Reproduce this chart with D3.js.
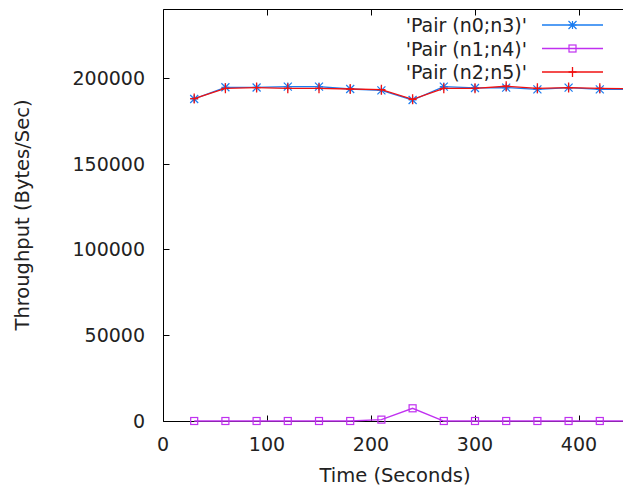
<!DOCTYPE html>
<html lang="en">
<head>
<meta charset="utf-8">
<title>Throughput</title>
<script src="https://cdn.jsdelivr.net/npm/d3@7"></script>
<style>
  body { margin: 0; background: #fff; }
  svg { display: block; font-family: "DejaVu Sans", sans-serif; }
</style>
</head>
<body>
<script>
// data
var times = [30, 60, 90, 120, 150, 180, 210, 240, 270, 300, 330, 360, 390, 420, 450];
var pair03 = [187600, 194400, 194300, 194800, 194800, 193400, 192600, 187000, 194800, 194000, 194200, 193200, 194200, 193200, 193200];
var pair14 = [0, 0, 0, 0, 0, 0, 800, 7400, 0, 0, 0, 0, 0, 0, 0];
var pair25 = [187800, 193800, 194200, 193800, 193800, 193400, 193000, 187400, 193800, 193800, 195000, 193800, 194200, 193800, 193600];
var seriesNames = ["'Pair (n0;n3)'", "'Pair (n1;n4)'", "'Pair (n2;n5)'"];
var seriesColors = ["#1a7cf0", "#c030f0", "#f01010"];
var xTicks = [0, 100, 200, 300, 400];
var yTicks = [0, 50000, 100000, 150000, 200000];

var w = 623, h = 488;
var svg = d3.select("body").append("svg")
  .attr("width", w)
  .attr("height", h);

var x = d3.scaleLinear().domain([0, 450]).range([163, 631]);
var y = d3.scaleLinear().domain([0, 240000]).range([421, 9]);

var frameL = 163.5, frameT = 9.5, frameB = 421.5, frameR = 631;

// frame
svg.append("path")
  .attr("d", "M" + frameR + "," + frameT + "H" + frameL + "V" + frameB + "H" + frameR)
  .attr("fill", "none")
  .attr("stroke", "#000")
  .attr("stroke-width", 1);

// ticks (inward, mirrored on top)
svg.selectAll(".xt").data(xTicks).enter().append("path")
  .attr("d", function(d) {
    var px = Math.round(x(d)) + 0.5;
    return "M" + px + "," + frameB + "v-6M" + px + "," + frameT + "v6";
  })
  .attr("stroke", "#000");
svg.selectAll(".yt").data(yTicks).enter().append("path")
  .attr("d", function(d) {
    var py = Math.round(y(d)) + 0.5;
    return "M" + frameL + "," + py + "h6";
  })
  .attr("stroke", "#000");

// tick labels
svg.selectAll(".xl").data(xTicks).enter().append("text")
  .attr("x", function(d) { return x(d); })
  .attr("y", 451)
  .attr("text-anchor", "middle")
  .attr("font-size", 19)
  .attr("fill", "#222")
  .text(function(d) { return d; });
svg.selectAll(".yl").data(yTicks).enter().append("text")
  .attr("x", 145)
  .attr("y", function(d) { return y(d) + 7; })
  .attr("text-anchor", "end")
  .attr("font-size", 19)
  .attr("fill", "#222")
  .text(function(d) { return d; });

// axis titles
svg.append("text")
  .attr("x", 395).attr("y", 482)
  .attr("text-anchor", "middle")
  .attr("font-size", 19.5)
  .attr("fill", "#222")
  .text("Time (Seconds)");
svg.append("text")
  .attr("transform", "translate(29,215) rotate(-90)")
  .attr("text-anchor", "middle")
  .attr("font-size", 19.5)
  .attr("fill", "#222")
  .text("Throughput (Bytes/Sec)");

var allSeries = [pair03, pair14, pair25];
var line = d3.line()
  .x(function(d, i) { return x(times[i]); })
  .y(function(d) { return y(d); });

function marker(g, type, cx, cy, color) {
  var s = 4;
  if (type === 0) {
    g.append("path")
      .attr("d", "M" + (cx - s) + "," + cy + "h" + 2 * s + "M" + cx + "," + (cy - s) + "v" + 2 * s +
        "M" + (cx - s) + "," + (cy - s) + "l" + 2 * s + "," + 2 * s +
        "M" + (cx - s) + "," + (cy + s) + "l" + 2 * s + "," + (-2 * s))
      .attr("stroke", color).attr("stroke-width", 1.2).attr("fill", "none");
  } else if (type === 1) {
    g.append("rect")
      .attr("x", cx - 3.5).attr("y", cy - 3.5)
      .attr("width", 7).attr("height", 7)
      .attr("stroke", color).attr("stroke-width", 1.2).attr("fill", "none");
  } else {
    g.append("path")
      .attr("d", "M" + (cx - s) + "," + cy + "h" + 2 * s + "M" + cx + "," + (cy - s - 1) + "v" + (2 * s + 2))
      .attr("stroke", color).attr("stroke-width", 1.3).attr("fill", "none");
  }
}

allSeries.forEach(function(vals, k) {
  var g = svg.append("g");
  g.append("path")
    .attr("d", line(vals))
    .attr("fill", "none")
    .attr("stroke", seriesColors[k])
    .attr("stroke-width", 1.3);
  vals.forEach(function(v, i) {
    marker(g, k, x(times[i]), y(v), seriesColors[k]);
  });

  // legend
  var ly = 25 + k * 23.5;
  svg.append("text")
    .attr("x", 527).attr("y", ly + 7)
    .attr("text-anchor", "end")
    .attr("font-size", 19)
    .attr("fill", "#222")
    .text(seriesNames[k]);
  svg.append("line")
    .attr("x1", 542).attr("x2", 603)
    .attr("y1", ly).attr("y2", ly)
    .attr("stroke", seriesColors[k])
    .attr("stroke-width", 1.3);
  marker(svg, k, 572.5, ly, seriesColors[k]);
});
</script>
</body>
</html>
